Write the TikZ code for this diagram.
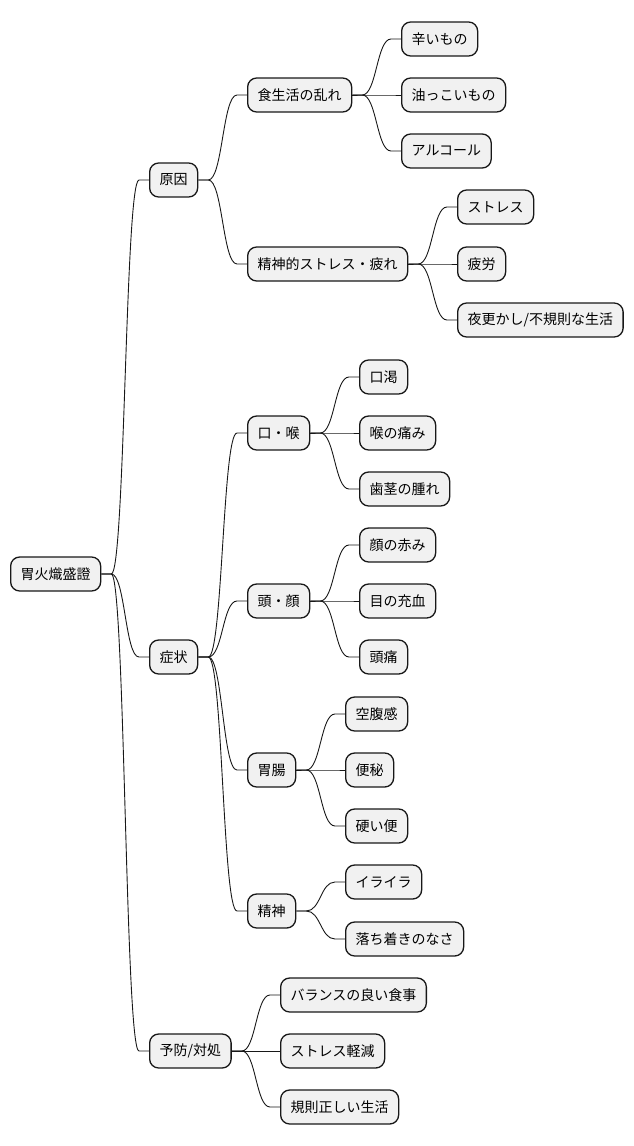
\documentclass[tikz,border=0pt]{standalone}
\usepackage{fontspec}
\setmainfont{Noto Sans CJK JP}
\usetikzlibrary{calc}
\definecolor{boxfill}{HTML}{F1F1F1}
\definecolor{boxline}{HTML}{181818}
\tikzset{
  mbox/.style={draw=boxline, line width=1.3pt, fill=boxfill, rounded corners=9pt,
    anchor=west, minimum height=34pt, inner xsep=10pt, inner ysep=0pt,
    font=\fontsize{14}{16}\selectfont, text=black},
  edge/.style={draw=boxline, line width=0.9pt}
}
\newcommand\conn[2]{%
  \path (#1.east) ++(10,0) coordinate (s);
  \path (#2.west) ++(-10,0) coordinate (t);
  \draw[edge] let \p1=(s), \p2=(t) in (#1.east) -- (s)
    .. controls ({(\x1+\x2)/2},\y1) and ({(\x1+\x2)/2},\y2) .. (t) -- (#2.west);
}
\begin{document}
\begin{tikzpicture}[x=1pt,y=-1pt]
\useasboundingbox (0,0) rectangle (633,1146);
\node[mbox] (root) at (10,574) {胃火熾盛證};
\node[mbox] (gen) at (149,180) {原因};
\node[mbox] (sho) at (149,657) {症状};
\node[mbox] (yob) at (149,1051) {予防/対処};
\node[mbox] (shoku) at (247,95) {食生活の乱れ};
\node[mbox] (seishin) at (247,264) {精神的ストレス・疲れ};
\node[mbox] (a1) at (401,39) {辛いもの};
\node[mbox] (a2) at (401,95) {油っこいもの};
\node[mbox] (a3) at (401,151) {アルコール};
\node[mbox] (b1) at (457,207) {ストレス};
\node[mbox] (b2) at (457,264) {疲労};
\node[mbox] (b3) at (457,320) {夜更かし/不規則な生活};
\node[mbox] (kuchi) at (247,433) {口・喉};
\node[mbox] (c1) at (359,377) {口渇};
\node[mbox] (c2) at (359,433) {喉の痛み};
\node[mbox] (c3) at (359,489) {歯茎の腫れ};
\node[mbox] (atama) at (247,601) {頭・顔};
\node[mbox] (d1) at (359,545) {顔の赤み};
\node[mbox] (d2) at (359,601) {目の充血};
\node[mbox] (d3) at (359,657) {頭痛};
\node[mbox] (ichou) at (247,770) {胃腸};
\node[mbox] (e1) at (345,714) {空腹感};
\node[mbox] (e2) at (345,770) {便秘};
\node[mbox] (e3) at (345,826) {硬い便};
\node[mbox] (sei) at (247,911) {精神};
\node[mbox] (f1) at (345,882) {イライラ};
\node[mbox] (f2) at (345,939) {落ち着きのなさ};
\node[mbox] (g1) at (280,995) {バランスの良い食事};
\node[mbox] (g2) at (280,1051) {ストレス軽減};
\node[mbox] (g3) at (280,1107) {規則正しい生活};
\conn{root}{gen}\conn{root}{sho}\conn{root}{yob}
\conn{gen}{shoku}\conn{gen}{seishin}
\conn{shoku}{a1}\conn{shoku}{a2}\conn{shoku}{a3}
\conn{seishin}{b1}\conn{seishin}{b2}\conn{seishin}{b3}
\conn{sho}{kuchi}\conn{sho}{atama}\conn{sho}{ichou}\conn{sho}{sei}
\conn{kuchi}{c1}\conn{kuchi}{c2}\conn{kuchi}{c3}
\conn{atama}{d1}\conn{atama}{d2}\conn{atama}{d3}
\conn{ichou}{e1}\conn{ichou}{e2}\conn{ichou}{e3}
\conn{sei}{f1}\conn{sei}{f2}
\conn{yob}{g1}\conn{yob}{g2}\conn{yob}{g3}
\end{tikzpicture}
\end{document}
